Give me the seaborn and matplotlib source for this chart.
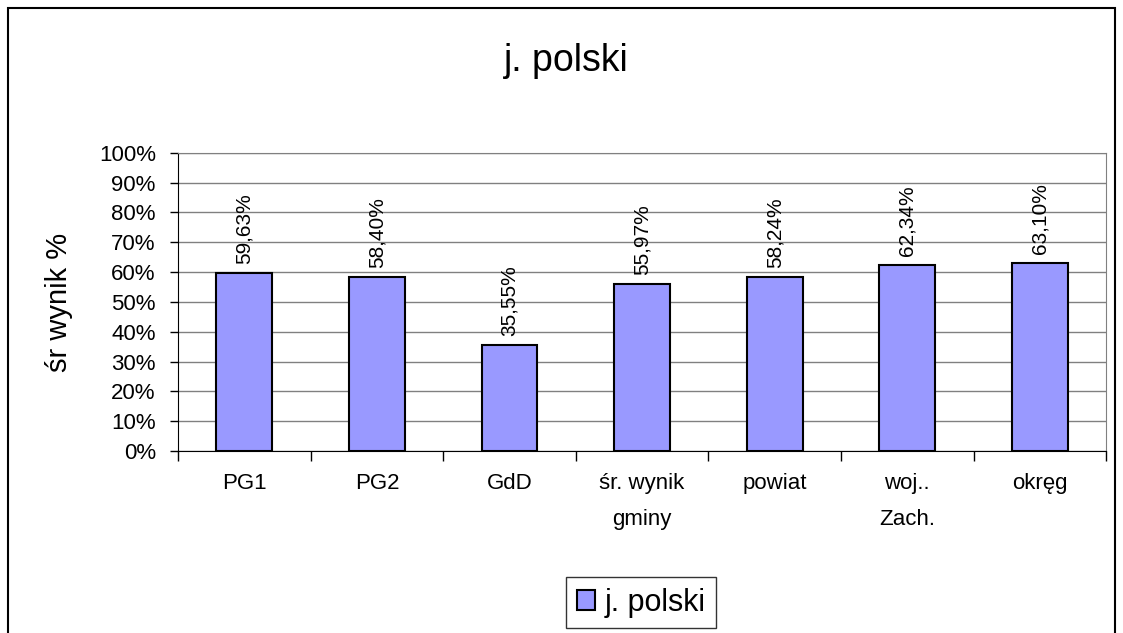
import pandas as pd
import matplotlib.pyplot as plt
from matplotlib.patches import Rectangle
from matplotlib.ticker import FixedLocator, PercentFormatter
import seaborn as sns

categories = ['PG1', 'PG2', 'GdD', 'śr. wynik\ngminy', 'powiat', 'woj..\nZach.', 'okręg']
values = [59.63, 58.40, 35.55, 55.97, 58.24, 62.34, 63.10]
series_name = 'j. polski'

df = pd.DataFrame({'kategoria': categories, 'wynik': values})

sns.set_style('white')
plt.rcParams['font.family'] = ['Liberation Sans', 'DejaVu Sans']
plt.rcParams['text.color'] = 'black'
plt.rcParams['xtick.color'] = 'black'
plt.rcParams['ytick.color'] = 'black'
plt.rcParams['axes.labelcolor'] = 'black'

fig = plt.figure(figsize=(11.23, 6.33), dpi=100)
ax = fig.add_axes([0.1585, 0.2875, 0.8265, 0.471])

sns.barplot(data=df, x='kategoria', y='wynik', color='#9999FF', edgecolor='black',
            linewidth=1.5, width=0.42, saturation=1, ax=ax, label=series_name)
handles, labels = ax.get_legend_handles_labels()
if ax.get_legend() is not None:
    ax.get_legend().remove()

ax.set_ylim(0, 100)
ax.set_xlim(-0.5, len(categories) - 0.5)
ax.set_yticks(range(0, 101, 10))
ax.yaxis.set_major_formatter(PercentFormatter(decimals=0))
ax.grid(axis='y', color='#808080', linewidth=1)
ax.set_axisbelow(True)

for sp in ['top', 'right']:
    ax.spines[sp].set_color('#808080')
for sp in ['left', 'bottom']:
    ax.spines[sp].set_color('black')

# ticks between categories, labels centred under bars
ax.xaxis.set_minor_locator(FixedLocator([i - 0.5 for i in range(len(categories) + 1)]))
ax.tick_params(axis='x', which='major', length=0, pad=16, labelsize=16)
ax.tick_params(axis='x', which='minor', length=7, width=1, color='black', bottom=True)
ax.tick_params(axis='y', length=6, width=1, color='black', left=True, labelsize=16, pad=10)
for lbl in ax.get_xticklabels():
    lbl.set_linespacing(1.95)
    lbl.set_va('top')

ax.set_xlabel('')
ax.set_ylabel('śr wynik %', fontsize=21)
ax.yaxis.set_label_coords(-0.113, 0.5)

for i, v in enumerate(values):
    ax.text(i, v + 3, f'{v:.2f}%'.replace('.', ','), rotation=90, ha='center', va='bottom',
            fontsize=15)

fig.suptitle(series_name, x=0.504, y=0.903, va='center', fontsize=27)

leg = fig.legend(handles, labels, loc='center', bbox_to_anchor=(0.571, 0.048), fontsize=22,
                 frameon=True, fancybox=False, edgecolor='black', handlelength=0.6,
                 handleheight=0.6, handletextpad=0.3, borderpad=0.35)
leg.get_frame().set_linewidth(1)

fig.patches.append(Rectangle((0.007, -0.05), 0.986, 1.037, transform=fig.transFigure,
                             fill=False, edgecolor='black', linewidth=1.5))

fig.savefig('out.png', dpi=100)
